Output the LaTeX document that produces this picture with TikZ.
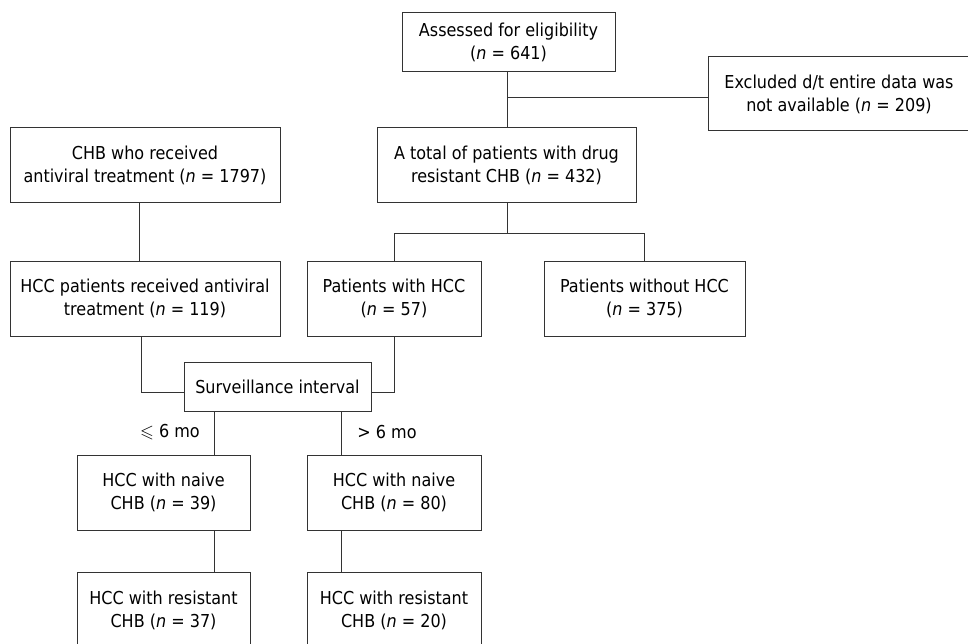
\documentclass[tikz,border=0pt]{standalone}
\usepackage{amssymb}
\usepackage{fontspec}
\setmainfont{DejaVu Sans Condensed}

\begin{document}
\begin{tikzpicture}[x=1pt,y=-1pt,
    box/.style={draw=black!80, line width=1pt, align=center, inner sep=0pt,
        font=\fontsize{17.8}{23}\selectfont},
    link/.style={draw=black!80, line width=1pt},
    lbl/.style={font=\fontsize{17.8}{23}\selectfont}]
    \useasboundingbox (0,0) rectangle (968,644);
    % boxes
    \node[box, minimum width=213, minimum height=59] (assess) at (508.5,42.5) {Assessed for eligibility\\(\textit{n} = 641)};
    \node[box, minimum width=262, minimum height=74] (excl) at (839,94) {Excluded d/t entire data was\\not available (\textit{n} = 209)};
    \node[box, minimum width=259, minimum height=75] (total) at (506.5,165.5) {A total of patients with drug\\resistant CHB (\textit{n} = 432)};
    \node[box, minimum width=270, minimum height=75] (chb) at (145,165.5) {CHB who received\\antiviral treatment (\textit{n} = 1797)};
    \node[box, minimum width=270, minimum height=75] (hccpat) at (145,298.5) {HCC patients received antiviral\\treatment (\textit{n} = 119)};
    \node[box, minimum width=174, minimum height=75] (withhcc) at (394,298.5) {Patients with HCC\\(\textit{n} = 57)};
    \node[box, minimum width=201, minimum height=75] (without) at (644.5,298.5) {Patients without HCC\\(\textit{n} = 375)};
    \node[box, minimum width=187, minimum height=49] (surv) at (277.5,386.5) {Surveillance interval};
    \node[box, minimum width=173, minimum height=75] (naive1) at (163.5,492.5) {HCC with naive\\CHB (\textit{n} = 39)};
    \node[box, minimum width=174, minimum height=75] (naive2) at (394,492.5) {HCC with naive\\CHB (\textit{n} = 80)};
    \node[box, minimum width=173, minimum height=76] (res1) at (163.5,610) {HCC with resistant\\CHB (\textit{n} = 37)};
    \node[box, minimum width=174, minimum height=76] (res2) at (394,610) {HCC with resistant\\CHB (\textit{n} = 20)};
    % connectors
    \coordinate (ja) at (507.5,97.7);
    \coordinate (jb) at (507.5,233.7);
    \coordinate (jc) at (139,0);
    \coordinate (jd) at (141,0);
    \coordinate (je) at (0,392);
    \coordinate (jf) at (214,0);
    \coordinate (jg) at (341,0);
    \draw[link] (assess.south -| ja) -- (total.north -| ja);
    \draw[link] (ja) -- (ja -| excl.west);
    \draw[link] (total.south -| jb) -- (jb);
    \draw[link] (withhcc.north) |- (jb) -| (without.north);
    \draw[link] (chb.south -| jc) -- (hccpat.north -| jc);
    \draw[link] (hccpat.south -| jd) |- (surv.west |- je);
    \draw[link] (withhcc.south) |- (surv.east |- je);
    \draw[link] (surv.south -| jf) -- (naive1.north -| jf);
    \draw[link] (surv.south -| jg) -- (naive2.north -| jg);
    \draw[link] (naive1.south -| jf) -- (res1.north -| jf);
    \draw[link] (naive2.south -| jg) -- (res2.north -| jg);
    \node[lbl] (le) at (170,432) {$\leqslant$ 6 mo};
    \node[lbl] (gt) at (387,432) {> 6 mo};
\end{tikzpicture}
\end{document}
